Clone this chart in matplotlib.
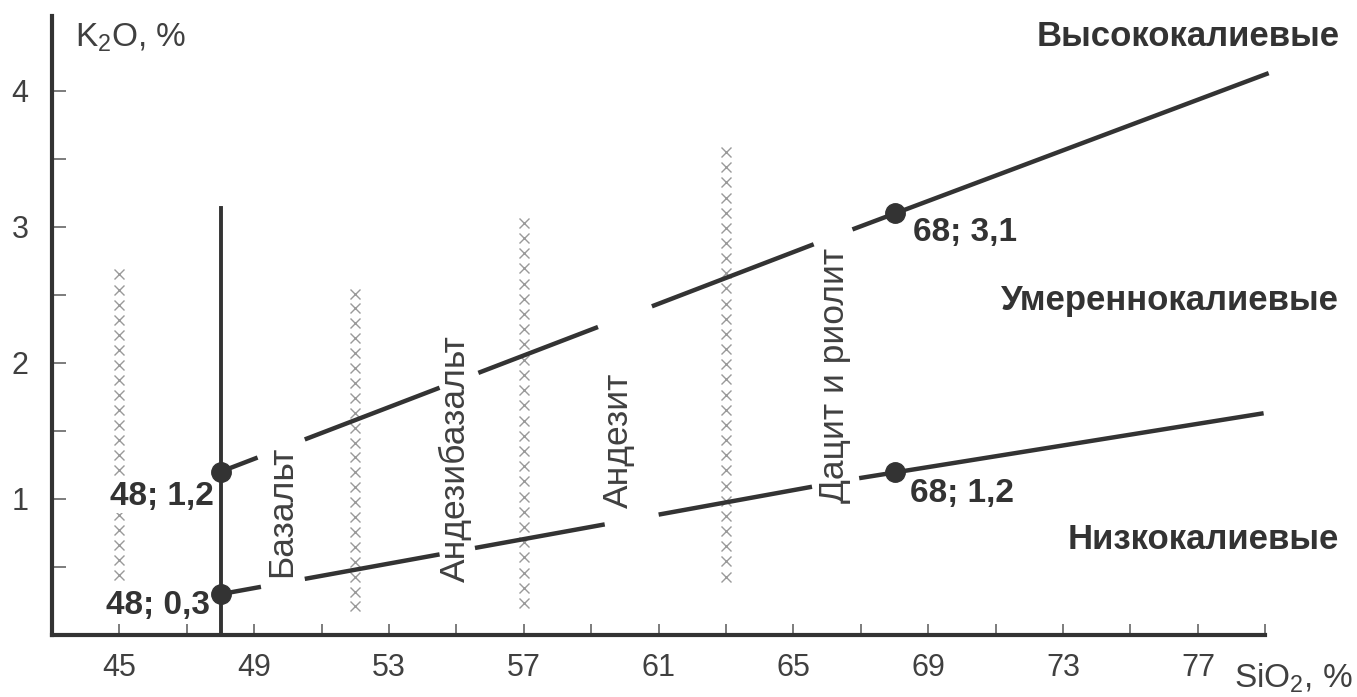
import numpy as np
import matplotlib
matplotlib.use("Agg")
from matplotlib import pyplot as plt

plt.rcParams['font.family'] = ['Liberation Sans', 'DejaVu Sans']
plt.rcParams['mathtext.default'] = 'regular'

# boundary lines K2O vs SiO2 (two reference points each + end of line)
upper_x = [48, 68, 79.1]
upper_y = [1.2, 3.1, 4.13]
lower_x = [48, 68, 78.95]
lower_y = [0.3, 1.2, 1.63]
# where the lines are broken for the rock names
upper_gaps = [(49.1, 50.5), (54.5, 55.65), (59.2, 60.8), (65.6, 66.75)]
lower_gaps = [(49.2, 50.5), (54.5, 55.55), (59.4, 61.0), (65.55, 66.95)]

points_x = [48, 48, 68, 68]
points_y = [1.2, 0.3, 3.1, 1.2]
point_labels = ['48; 1,2', '48; 0,3', '68; 3,1', '68; 1,2']

# columns of crosses (SiO2 boundaries) and their K2O range
cross_x = [45, 52, 57, 63]
cross_lo = [0.44, 0.21, 0.235, 0.43]
cross_hi = [2.65, 2.51, 3.03, 3.55]

rock_names = ['Базальт', 'Андезибазальт', 'Андезит', 'Дацит и риолит']
rock_x = [49.8, 54.97, 59.81, 66.22]
rock_y = [0.43, 0.39, 0.93, 0.97]

series_names = ['Высококалиевые', 'Умереннокалиевые', 'Низкокалиевые']
series_y = [4.40, 2.46, 0.70]

basalt_line_top = 3.14

x_major = [45, 49, 53, 57, 61, 65, 69, 73, 77]
x_minor = [47, 51, 55, 59, 63, 67, 71, 75, 79]
y_major = [1, 2, 3, 4]
y_minor = [0.5, 1.5, 2.5, 3.5]

dark = '#333333'
txt = '#404040'

fig = plt.figure(figsize=(13.57, 6.97), dpi=100)
ax = fig.add_axes([52/1357, 62/697, 1247/1357, 619/697])
ax.set_xlim(43, 80)
ax.set_ylim(0, 4.55)

for s in ['top', 'right']:
    ax.spines[s].set_visible(False)
for s in ['left', 'bottom']:
    ax.spines[s].set_linewidth(3)
    ax.spines[s].set_color(dark)
ax.spines['bottom'].set_bounds(43, 79)

ax.set_xticks(x_major)
ax.set_xticks(x_minor, minor=True)
ax.set_yticks(y_major)
ax.set_yticks(y_minor, minor=True)
ax.tick_params(axis='x', which='both', direction='in', length=8, width=1.2,
               color='#666666', labelsize=22, labelcolor=txt, pad=13)
ax.tick_params(axis='y', which='both', direction='in', length=10, width=1.2,
               color='#666666', labelsize=22, labelcolor=txt, pad=17)

# crosses, evenly spread over each column's range
for cx, lo, hi in zip(cross_x, cross_lo, cross_hi):
    n = int(round((hi - lo) / 0.11)) + 1
    ys = np.linspace(lo, hi, n)
    ax.plot([cx] * n, ys, 'x', color='#9a9a9a', ms=7, mew=1.0, zorder=1)

# vertical line at 48
ax.plot([48, 48], [0, basalt_line_top], color=dark, lw=2.8, zorder=3)


def broken_line(lx, ly, gaps):
    edges = [lx[0]]
    for a, b in gaps:
        edges += [a, b]
    edges.append(lx[-1])
    for i in range(0, len(edges), 2):
        xs = [edges[i], edges[i + 1]]
        ax.plot(xs, np.interp(xs, lx, ly), color=dark, lw=3.2, zorder=3,
                solid_capstyle='butt', clip_on=False)


broken_line(upper_x, upper_y, upper_gaps)
broken_line(lower_x, lower_y, lower_gaps)

ax.plot(points_x, points_y, 'o', color=dark, ms=14, zorder=5)

# point labels
ax.text(47.8, 1.02, point_labels[0], ha='right', va='center', fontsize=24,
        fontweight='bold', color=dark, zorder=4,
        bbox=dict(facecolor='white', edgecolor='none', pad=1))
ax.text(47.7, 0.22, point_labels[1], ha='right', va='center', fontsize=24,
        fontweight='bold', color=dark, zorder=4)
ax.text(68.55, 2.96, point_labels[2], ha='left', va='center', fontsize=24,
        fontweight='bold', color=dark, zorder=4)
ax.text(68.45, 1.04, point_labels[3], ha='left', va='center', fontsize=24,
        fontweight='bold', color=dark, zorder=4)

for name, rx, ry in zip(rock_names, rock_x, rock_y):
    ax.text(rx, ry, name, rotation=90, ha='center', va='bottom', fontsize=25.5,
            color=txt, zorder=4)

for name, sy in zip(series_names, series_y):
    ax.text(81.2, sy, name, ha='right', va='center', fontsize=25,
            fontweight='bold', color=dark)

ax.text(43.68, 4.39, 'K$_2$O, %', ha='left', va='center', fontsize=24, color=txt)
ax.text(78.06, -0.32, 'SiO$_2$, %', ha='left', va='center', fontsize=24, color=txt)

fig.savefig('out.png', dpi=100)
